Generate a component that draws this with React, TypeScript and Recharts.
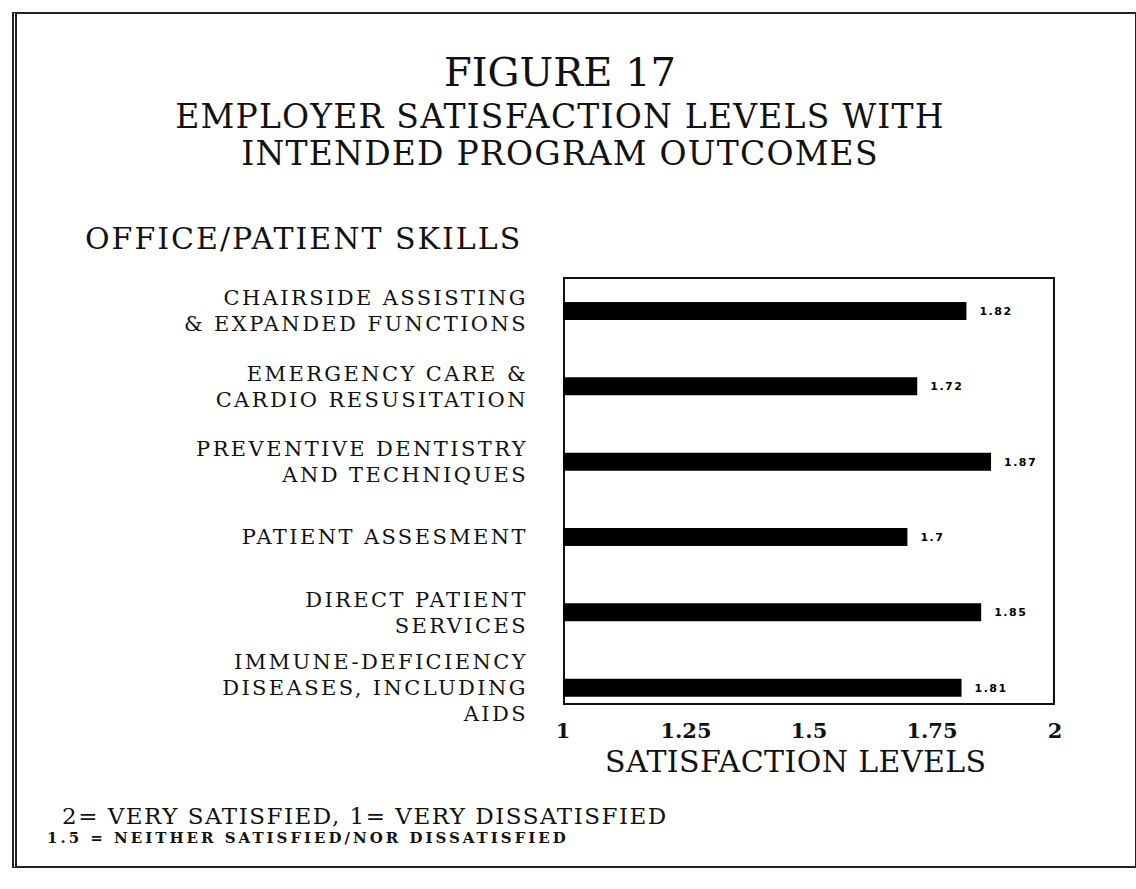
import React from 'react';
import { BarChart, Bar, XAxis, YAxis, LabelList } from 'recharts';

// categories (label lines), x ticks
const skillLabels = [
  ['CHAIRSIDE ASSISTING', '& EXPANDED FUNCTIONS'],
  ['EMERGENCY CARE &', 'CARDIO RESUSITATION'],
  ['PREVENTIVE DENTISTRY', 'AND TECHNIQUES'],
  ['PATIENT ASSESMENT'],
  ['DIRECT PATIENT', 'SERVICES'],
  ['IMMUNE-DEFICIENCY', 'DISEASES, INCLUDING', 'AIDS'],
];
const satisfaction = [1.82, 1.72, 1.87, 1.7, 1.85, 1.81];
const xTicks = [1, 1.25, 1.5, 1.75, 2];

const data = skillLabels.map((lines, i) => ({
  skill: lines.join('\n'),
  value: satisfaction[i],
}));

const SERIF = '"DejaVu Serif", "Liberation Serif", serif';

const SkillTick = (props: any) => {
  const { x, y, payload } = props;
  const lines = String(payload.value).split('\n');
  const lh = 26;
  const start = y - ((lines.length - 1) * lh) / 2;
  return (
    <text
      x={x}
      y={start}
      textAnchor="end"
      fontFamily={SERIF}
      fontSize={21}
      letterSpacing={2.4}
      fill="#111"
    >
      {lines.map((l, i) => (
        <tspan key={i} x={x} y={start + i * lh} dy="0.36em">
          {l}
        </tspan>
      ))}
    </text>
  );
};

const LevelTick = (props: any) => {
  const { x, y, payload } = props;
  return (
    <text x={x} y={y} dy={13} textAnchor="middle" fontFamily={SERIF} fontSize={21} fontWeight="bold" fill="#111">
      {String(payload.value)}
    </text>
  );
};

const abs = (left: number, top: number, extra: any = {}) => ({
  position: 'absolute' as const,
  left,
  top,
  margin: 0,
  fontFamily: SERIF,
  color: '#111',
  whiteSpace: 'nowrap' as const,
  lineHeight: 1,
  ...extra,
});

export default function App() {
  return (
    <div style={{ position: 'relative', width: 1136, height: 889, background: '#fff', overflow: 'hidden' }}>
      <style>{`body { margin: 0; }`}</style>

      {/* outer frame */}
      <div
        style={{
          position: 'absolute',
          left: 12,
          top: 12,
          width: 1118,
          height: 852,
          borderTop: '2px solid #222',
          borderRight: '2px solid #222',
          borderBottom: '2px solid #222',
          borderLeft: '5px double #222',
        }}
      />

      {/* titles */}
      <div style={abs(0, 52, { width: 1120, textAlign: 'center', fontSize: 40 })}>FIGURE 17</div>
      <div style={abs(0, 100, { width: 1120, textAlign: 'center', fontSize: 33, letterSpacing: 1.2 })}>
        EMPLOYER SATISFACTION LEVELS WITH
      </div>
      <div style={abs(0, 137, { width: 1120, textAlign: 'center', fontSize: 33, letterSpacing: 1.2 })}>
        INTENDED PROGRAM OUTCOMES
      </div>
      <div style={abs(85, 224, { fontSize: 30, letterSpacing: 2 })}>OFFICE/PATIENT SKILLS</div>

      {/* plot box */}
      <div
        style={{
          position: 'absolute',
          left: 563,
          top: 277,
          width: 492,
          height: 428,
          border: '2px solid #111',
          boxSizing: 'border-box',
        }}
      />

      <div style={{ position: 'absolute', left: 0, top: 0 }}>
        <BarChart
          width={1136}
          height={889}
          data={data}
          layout="vertical"
          margin={{ top: 273, right: 81, bottom: 134, left: 0 }}
        >
          <XAxis
            type="number"
            domain={[1, 2]}
            ticks={xTicks}
            allowDataOverflow
            axisLine={false}
            tickLine={false}
            tickSize={0}
            tickMargin={0}
            height={30}
            tick={<LevelTick />}
          />
          <YAxis
            type="category"
            dataKey="skill"
            width={563}
            axisLine={false}
            tickLine={false}
            tickSize={0}
            tickMargin={35}
            interval={0}
            tick={<SkillTick />}
          />
          <Bar dataKey="value" fill="#000" barSize={18} isAnimationActive={false}>
            <LabelList
              dataKey="value"
              position="right"
              offset={13}
              fill="#000"
              fontFamily='"DejaVu Sans", sans-serif'
              fontSize={11}
              fontWeight="bold"
              letterSpacing={1.5}
            />
          </Bar>
        </BarChart>
      </div>

      {/* axis title and notes */}
      <div style={abs(605, 747, { fontSize: 30, letterSpacing: 0.4 })}>SATISFACTION LEVELS</div>
      <div style={abs(62, 805, { fontSize: 23, letterSpacing: 1.5 })}>2= VERY SATISFIED, 1= VERY DISSATISFIED</div>
      <div style={abs(47, 831, { fontSize: 15, fontWeight: 'bold', letterSpacing: 3 })}>
        1.5 = NEITHER SATISFIED/NOR DISSATISFIED
      </div>
    </div>
  );
}
